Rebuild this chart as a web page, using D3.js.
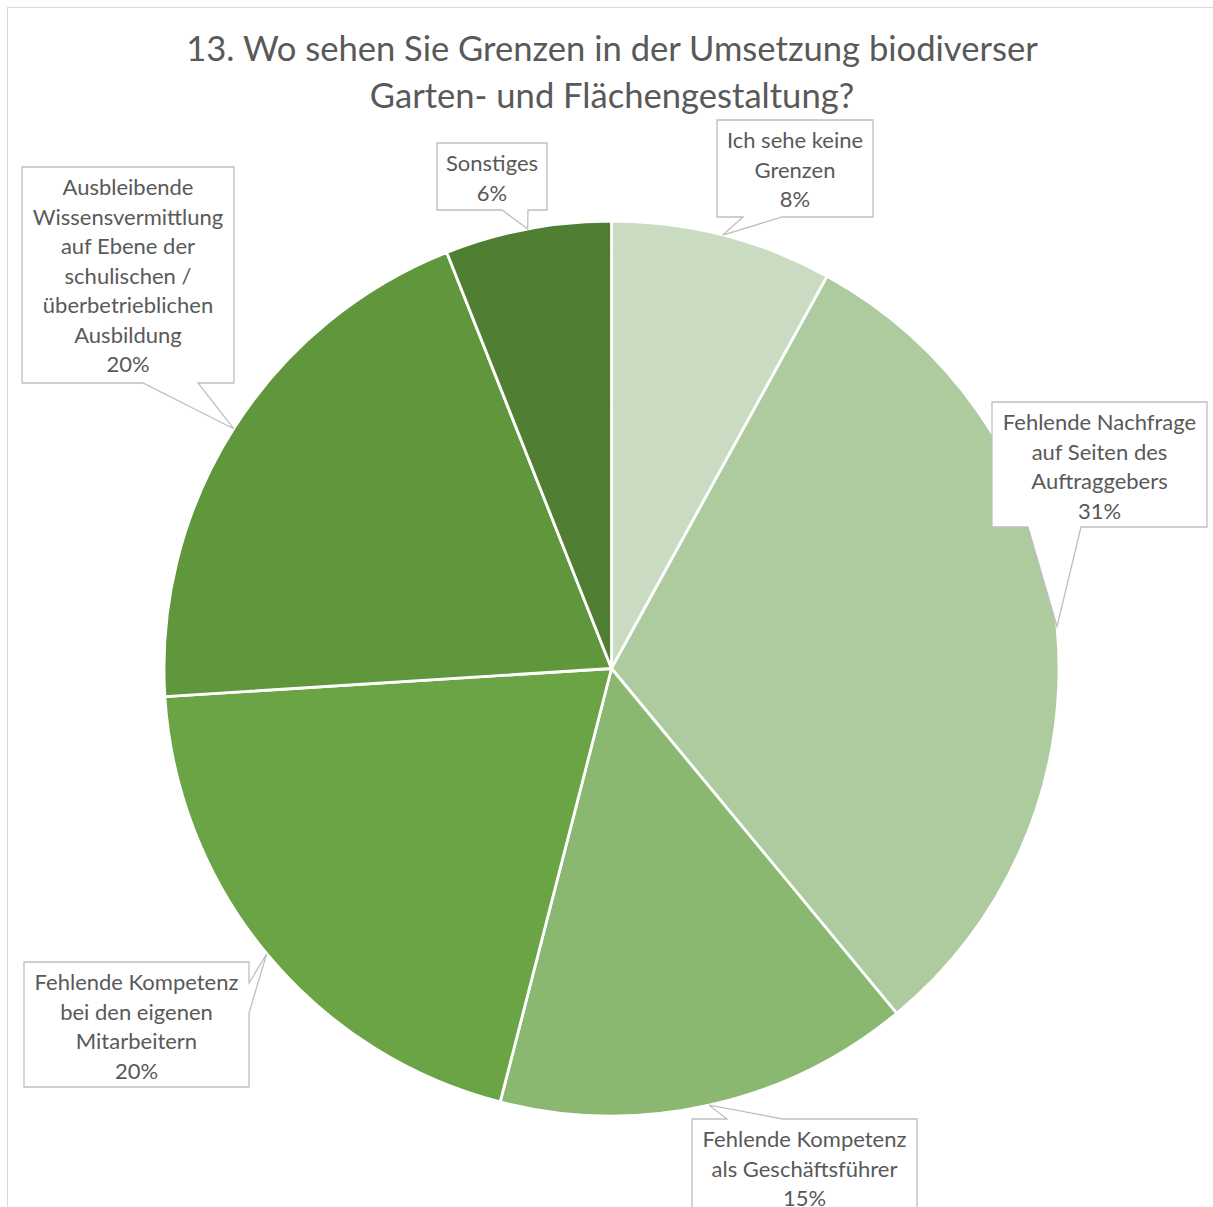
<!DOCTYPE html>
<html>
<head>
<meta charset="utf-8">
<script src="https://cdn.jsdelivr.net/npm/d3@7"></script>
<style>
  html, body { margin: 0; padding: 0; background: #fff; }
  svg { display: block; }
</style>
</head>
<body>
<svg id="chart" width="1213" height="1207"></svg>
<script>
// Survey answers, clockwise from 12 o'clock
const categories = [
  "Ich sehe keine Grenzen",
  "Fehlende Nachfrage auf Seiten des Auftraggebers",
  "Fehlende Kompetenz als Geschäftsführer",
  "Fehlende Kompetenz bei den eigenen Mitarbeitern",
  "Ausbleibende Wissensvermittlung auf Ebene der schulischen / überbetrieblichen Ausbildung",
  "Sonstiges"
];
const shares = [8, 31, 15, 20, 20, 6];

// Wrapped label lines for each callout (category text only)
const labelLines = [
  ["Ich sehe keine", "Grenzen"],
  ["Fehlende Nachfrage", "auf Seiten des", "Auftraggebers"],
  ["Fehlende Kompetenz", "als Geschäftsführer"],
  ["Fehlende Kompetenz", "bei den eigenen", "Mitarbeitern"],
  ["Ausbleibende", "Wissensvermittlung", "auf Ebene der", "schulischen /", "überbetrieblichen", "Ausbildung"],
  ["Sonstiges"]
];

const titleLines = [
  "13. Wo sehen Sie Grenzen in der Umsetzung biodiverser",
  "Garten- und Flächengestaltung?"
];

const sliceColors = ["#C9DBC1", "#ADCB9E", "#8AB870", "#6BA444", "#60963C", "#507F33"];

// Callout boxes: x, y, w, h and the edge the pointer leaves from (with its two base points)
const callouts = [
  { x: 717, y: 120, w: 156, h: 97,  side: "bottom", b0: 743, b1: 782 },
  { x: 992, y: 402, w: 215, h: 125, side: "bottom", b0: 1028, b1: 1081 },
  { x: 692, y: 1119, w: 225, h: 100, side: "top",    b0: 727, b1: 783 },
  { x: 24,  y: 962, w: 225, h: 125, side: "right",  b0: 983, b1: 1013 },
  { x: 22,  y: 167, w: 212, h: 216, side: "bottom", b0: 143, b1: 198 },
  { x: 437, y: 143, w: 110, h: 67,  side: "bottom", b0: 502, b1: 528 }
];

const W = 1213, H = 1207;
const cx = 611.5, cy = 668.5, R = 447.5;
const textColor = "#595959";
const lineColor = "#BFBFBF";
const fontFamily = "Lato, 'Open Sans', sans-serif";
const lineH = 29.5;

const svg = d3.select("#chart");

// Chart area frame
svg.append("rect")
  .attr("x", 7.5).attr("y", 7.5)
  .attr("width", W + 20).attr("height", H + 20)
  .attr("fill", "#fff")
  .attr("stroke", "#D9D9D9").attr("stroke-width", 1);

// Title
svg.append("text")
  .attr("x", 612).attr("y", 61)
  .attr("text-anchor", "middle")
  .attr("fill", textColor)
  .attr("font-family", fontFamily)
  .attr("font-size", 34.6)
  .selectAll("tspan").data(titleLines).join("tspan")
  .attr("x", 612)
  .attr("dy", (d, i) => i === 0 ? 0 : 47)
  .text(d => d);

// Pie
const pie = d3.pie().sort(null).value(d => d.value);
const arcs = pie(categories.map((c, i) => ({ name: c, value: shares[i], color: sliceColors[i] })));
const arc = d3.arc().innerRadius(0).outerRadius(R);
const edgeArc = d3.arc().innerRadius(R).outerRadius(R);

const g = svg.append("g").attr("transform", `translate(${cx},${cy})`);
g.selectAll("path.slice").data(arcs).join("path")
  .attr("class", "slice")
  .attr("d", arc)
  .attr("fill", d => d.data.color)
  .attr("stroke", "#fff")
  .attr("stroke-width", 2.8)
  .attr("stroke-linejoin", "round");

// Callouts with pointers to the middle of each slice's rim
const fmt = v => `${v}%`;
arcs.forEach((a, i) => {
  const c = callouts[i];
  const [tx0, ty0] = edgeArc.centroid(a);
  const tx = cx + tx0, ty = cy + ty0;
  const x0 = c.x, y0 = c.y, x1 = c.x + c.w, y1 = c.y + c.h;
  let pts;
  if (c.side === "bottom") {
    pts = [[x0, y0], [x1, y0], [x1, y1], [c.b1, y1], [tx, ty], [c.b0, y1], [x0, y1]];
  } else if (c.side === "top") {
    pts = [[x0, y0], [c.b0, y0], [tx, ty], [c.b1, y0], [x1, y0], [x1, y1], [x0, y1]];
  } else {
    pts = [[x0, y0], [x1, y0], [x1, c.b0], [tx, ty], [x1, c.b1], [x1, y1], [x0, y1]];
  }
  svg.append("path")
    .attr("d", d3.line()(pts) + "Z")
    .attr("fill", "#fff")
    .attr("stroke", lineColor)
    .attr("stroke-width", 1.3)
    .attr("stroke-linejoin", "miter");

  const lines = labelLines[i].concat([fmt(a.data.value)]);
  const midX = c.x + c.w / 2;
  const firstY = c.y + 5 + lineH / 2;
  svg.append("text")
    .attr("text-anchor", "middle")
    .attr("fill", textColor)
    .attr("font-family", fontFamily)
    .attr("font-size", 22)
    .selectAll("tspan").data(lines).join("tspan")
    .attr("x", midX)
    .attr("y", (d, k) => firstY + k * lineH)
    .attr("dominant-baseline", "central")
    .text(d => d);
});
</script>
</body>
</html>
